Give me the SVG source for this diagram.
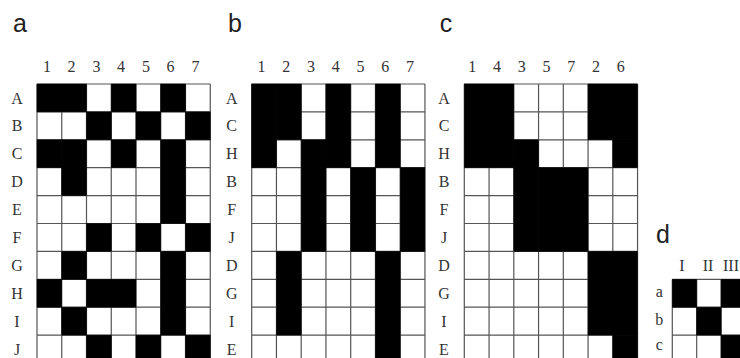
<svg xmlns="http://www.w3.org/2000/svg" width="740" height="358" viewBox="0 0 740 358">
<style>
.bg{fill:#fff}
.grid{fill:none;stroke:#555;stroke-width:1.2}
.blk rect{fill:#000;stroke:#000;stroke-width:0.5}
.pl{font-family:"Liberation Sans",Arial,sans-serif;font-size:25px;fill:#222;text-anchor:middle}
.lb{font-family:"Liberation Serif","Times New Roman",serif;font-size:16px;fill:#333;text-anchor:middle}
</style>
<rect class="bg" width="740" height="358"/>

<g id="panel-a">
<text class="pl" x="20" y="32">a</text>
<g class="lb-cols">
<text class="lb" x="46.9" y="72">1</text><text class="lb" x="71.6" y="72">2</text><text class="lb" x="96.4" y="72">3</text><text class="lb" x="121.1" y="72">4</text><text class="lb" x="145.9" y="72">5</text><text class="lb" x="170.6" y="72">6</text><text class="lb" x="195.4" y="72">7</text>
</g>
<g class="lb-rows">
<text class="lb" x="17" y="103.5">A</text><text class="lb" x="17" y="131.4">B</text><text class="lb" x="17" y="159.3">C</text><text class="lb" x="17" y="187.2">D</text><text class="lb" x="17" y="215.1">E</text><text class="lb" x="17" y="243">F</text><text class="lb" x="17" y="270.9">G</text><text class="lb" x="17" y="298.8">H</text><text class="lb" x="17" y="326.7">I</text><text class="lb" x="17" y="354.6">J</text>
</g>
<g transform="translate(37,84)">
<path class="grid" d="M0 0V279M24.75 0V279M49.5 0V279M74.25 0V279M99 0V279M123.75 0V279M148.5 0V279M173.25 0V279M0 0H173.25M0 27.9H173.25M0 55.8H173.25M0 83.7H173.25M0 111.6H173.25M0 139.5H173.25M0 167.4H173.25M0 195.3H173.25M0 223.2H173.25M0 251.1H173.25M0 279H173.25"/>
<g class="blk">
<rect x="0" y="0" width="49.5" height="27.9"/><rect x="74.25" y="0" width="24.75" height="27.9"/><rect x="123.75" y="0" width="24.75" height="27.9"/>
<rect x="49.5" y="27.9" width="24.75" height="27.9"/><rect x="99" y="27.9" width="24.75" height="27.9"/><rect x="148.5" y="27.9" width="24.75" height="27.9"/>
<rect x="0" y="55.8" width="24.75" height="27.9"/><rect x="24.75" y="55.8" width="24.75" height="55.8"/><rect x="74.25" y="55.8" width="24.75" height="27.9"/><rect x="123.75" y="55.8" width="24.75" height="83.7"/>
<rect x="49.5" y="139.5" width="24.75" height="27.9"/><rect x="99" y="139.5" width="24.75" height="27.9"/><rect x="148.5" y="139.5" width="24.75" height="27.9"/>
<rect x="24.75" y="167.4" width="24.75" height="27.9"/><rect x="123.75" y="167.4" width="24.75" height="83.7"/>
<rect x="0" y="195.3" width="24.75" height="27.9"/><rect x="49.5" y="195.3" width="49.5" height="27.9"/>
<rect x="24.75" y="223.2" width="24.75" height="27.9"/>
<rect x="49.5" y="251.1" width="24.75" height="27.9"/><rect x="99" y="251.1" width="24.75" height="27.9"/><rect x="148.5" y="251.1" width="24.75" height="27.9"/>
</g>
</g>
</g>

<g id="panel-b">
<text class="pl" x="235" y="32">b</text>
<g class="lb-cols">
<text class="lb" x="261.6" y="72">1</text><text class="lb" x="286.3" y="72">2</text><text class="lb" x="311.1" y="72">3</text><text class="lb" x="335.8" y="72">4</text><text class="lb" x="360.6" y="72">5</text><text class="lb" x="385.3" y="72">6</text><text class="lb" x="410.1" y="72">7</text>
</g>
<g class="lb-rows">
<text class="lb" x="231.7" y="103.5">A</text><text class="lb" x="231.7" y="131.4">C</text><text class="lb" x="231.7" y="159.3">H</text><text class="lb" x="231.7" y="187.2">B</text><text class="lb" x="231.7" y="215.1">F</text><text class="lb" x="231.7" y="243">J</text><text class="lb" x="231.7" y="270.9">D</text><text class="lb" x="231.7" y="298.8">G</text><text class="lb" x="231.7" y="326.7">I</text><text class="lb" x="231.7" y="354.6">E</text>
</g>
<g transform="translate(251.7,84)">
<path class="grid" d="M0 0V279M24.75 0V279M49.5 0V279M74.25 0V279M99 0V279M123.75 0V279M148.5 0V279M173.25 0V279M0 0H173.25M0 27.9H173.25M0 55.8H173.25M0 83.7H173.25M0 111.6H173.25M0 139.5H173.25M0 167.4H173.25M0 195.3H173.25M0 223.2H173.25M0 251.1H173.25M0 279H173.25"/>
<g class="blk">
<rect x="0" y="0" width="24.75" height="83.7"/>
<rect x="24.75" y="0" width="24.75" height="55.8"/>
<rect x="24.75" y="167.4" width="24.75" height="83.7"/>
<rect x="49.5" y="55.8" width="24.75" height="111.6"/>
<rect x="74.25" y="0" width="24.75" height="83.7"/>
<rect x="99" y="83.7" width="24.75" height="83.7"/>
<rect x="123.75" y="0" width="24.75" height="83.7"/>
<rect x="123.75" y="167.4" width="24.75" height="111.6"/>
<rect x="148.5" y="83.7" width="24.75" height="83.7"/>
</g>
</g>
</g>

<g id="panel-c">
<text class="pl" x="446" y="32">c</text>
<g class="lb-cols">
<text class="lb" x="472.2" y="72">1</text><text class="lb" x="496.9" y="72">4</text><text class="lb" x="521.7" y="72">3</text><text class="lb" x="546.4" y="72">5</text><text class="lb" x="571.2" y="72">7</text><text class="lb" x="595.9" y="72">2</text><text class="lb" x="620.7" y="72">6</text>
</g>
<g class="lb-rows">
<text class="lb" x="444" y="103.5">A</text><text class="lb" x="444" y="131.4">C</text><text class="lb" x="444" y="159.3">H</text><text class="lb" x="444" y="187.2">B</text><text class="lb" x="444" y="215.1">F</text><text class="lb" x="444" y="243">J</text><text class="lb" x="444" y="270.9">D</text><text class="lb" x="444" y="298.8">G</text><text class="lb" x="444" y="326.7">I</text><text class="lb" x="444" y="354.6">E</text>
</g>
<g transform="translate(464.3,84)">
<path class="grid" d="M0 0V279M24.75 0V279M49.5 0V279M74.25 0V279M99 0V279M123.75 0V279M148.5 0V279M173.25 0V279M0 0H173.25M0 27.9H173.25M0 55.8H173.25M0 83.7H173.25M0 111.6H173.25M0 139.5H173.25M0 167.4H173.25M0 195.3H173.25M0 223.2H173.25M0 251.1H173.25M0 279H173.25"/>
<g class="blk">
<rect x="0" y="0" width="49.5" height="83.7"/>
<rect x="49.5" y="55.8" width="24.75" height="111.6"/>
<rect x="74.25" y="83.7" width="49.5" height="83.7"/>
<rect x="123.75" y="0" width="49.5" height="55.8"/>
<rect x="148.5" y="55.8" width="24.75" height="27.9"/>
<rect x="123.75" y="167.4" width="49.5" height="83.7"/>
<rect x="148.5" y="251.1" width="24.75" height="27.9"/>
</g>
</g>
</g>

<g id="panel-d">
<text class="pl" x="663" y="243">d</text>
<g class="lb-cols">
<text class="lb" x="682" y="271">I</text><text class="lb" x="708" y="271">II</text><text class="lb" x="731" y="271">III</text>
</g>
<g class="lb-rows">
<text class="lb" x="659.3" y="297">a</text><text class="lb" x="659.3" y="324.5">b</text><text class="lb" x="659.3" y="349.5">c</text>
</g>
<g transform="translate(672.3,279.3)">
<path class="grid" d="M0 0V83.7M24.4 0V83.7M48.8 0V83.7M73.2 0V83.7M0 0H73.2M0 27.9H73.2M0 55.8H73.2M0 83.7H73.2"/>
<g class="blk">
<rect x="0" y="0" width="24.4" height="27.9"/>
<rect x="48.8" y="0" width="24.4" height="27.9"/>
<rect x="24.4" y="27.9" width="24.4" height="27.9"/>
<rect x="48.8" y="55.8" width="24.4" height="27.9"/>
</g>
</g>
</g>
</svg>
